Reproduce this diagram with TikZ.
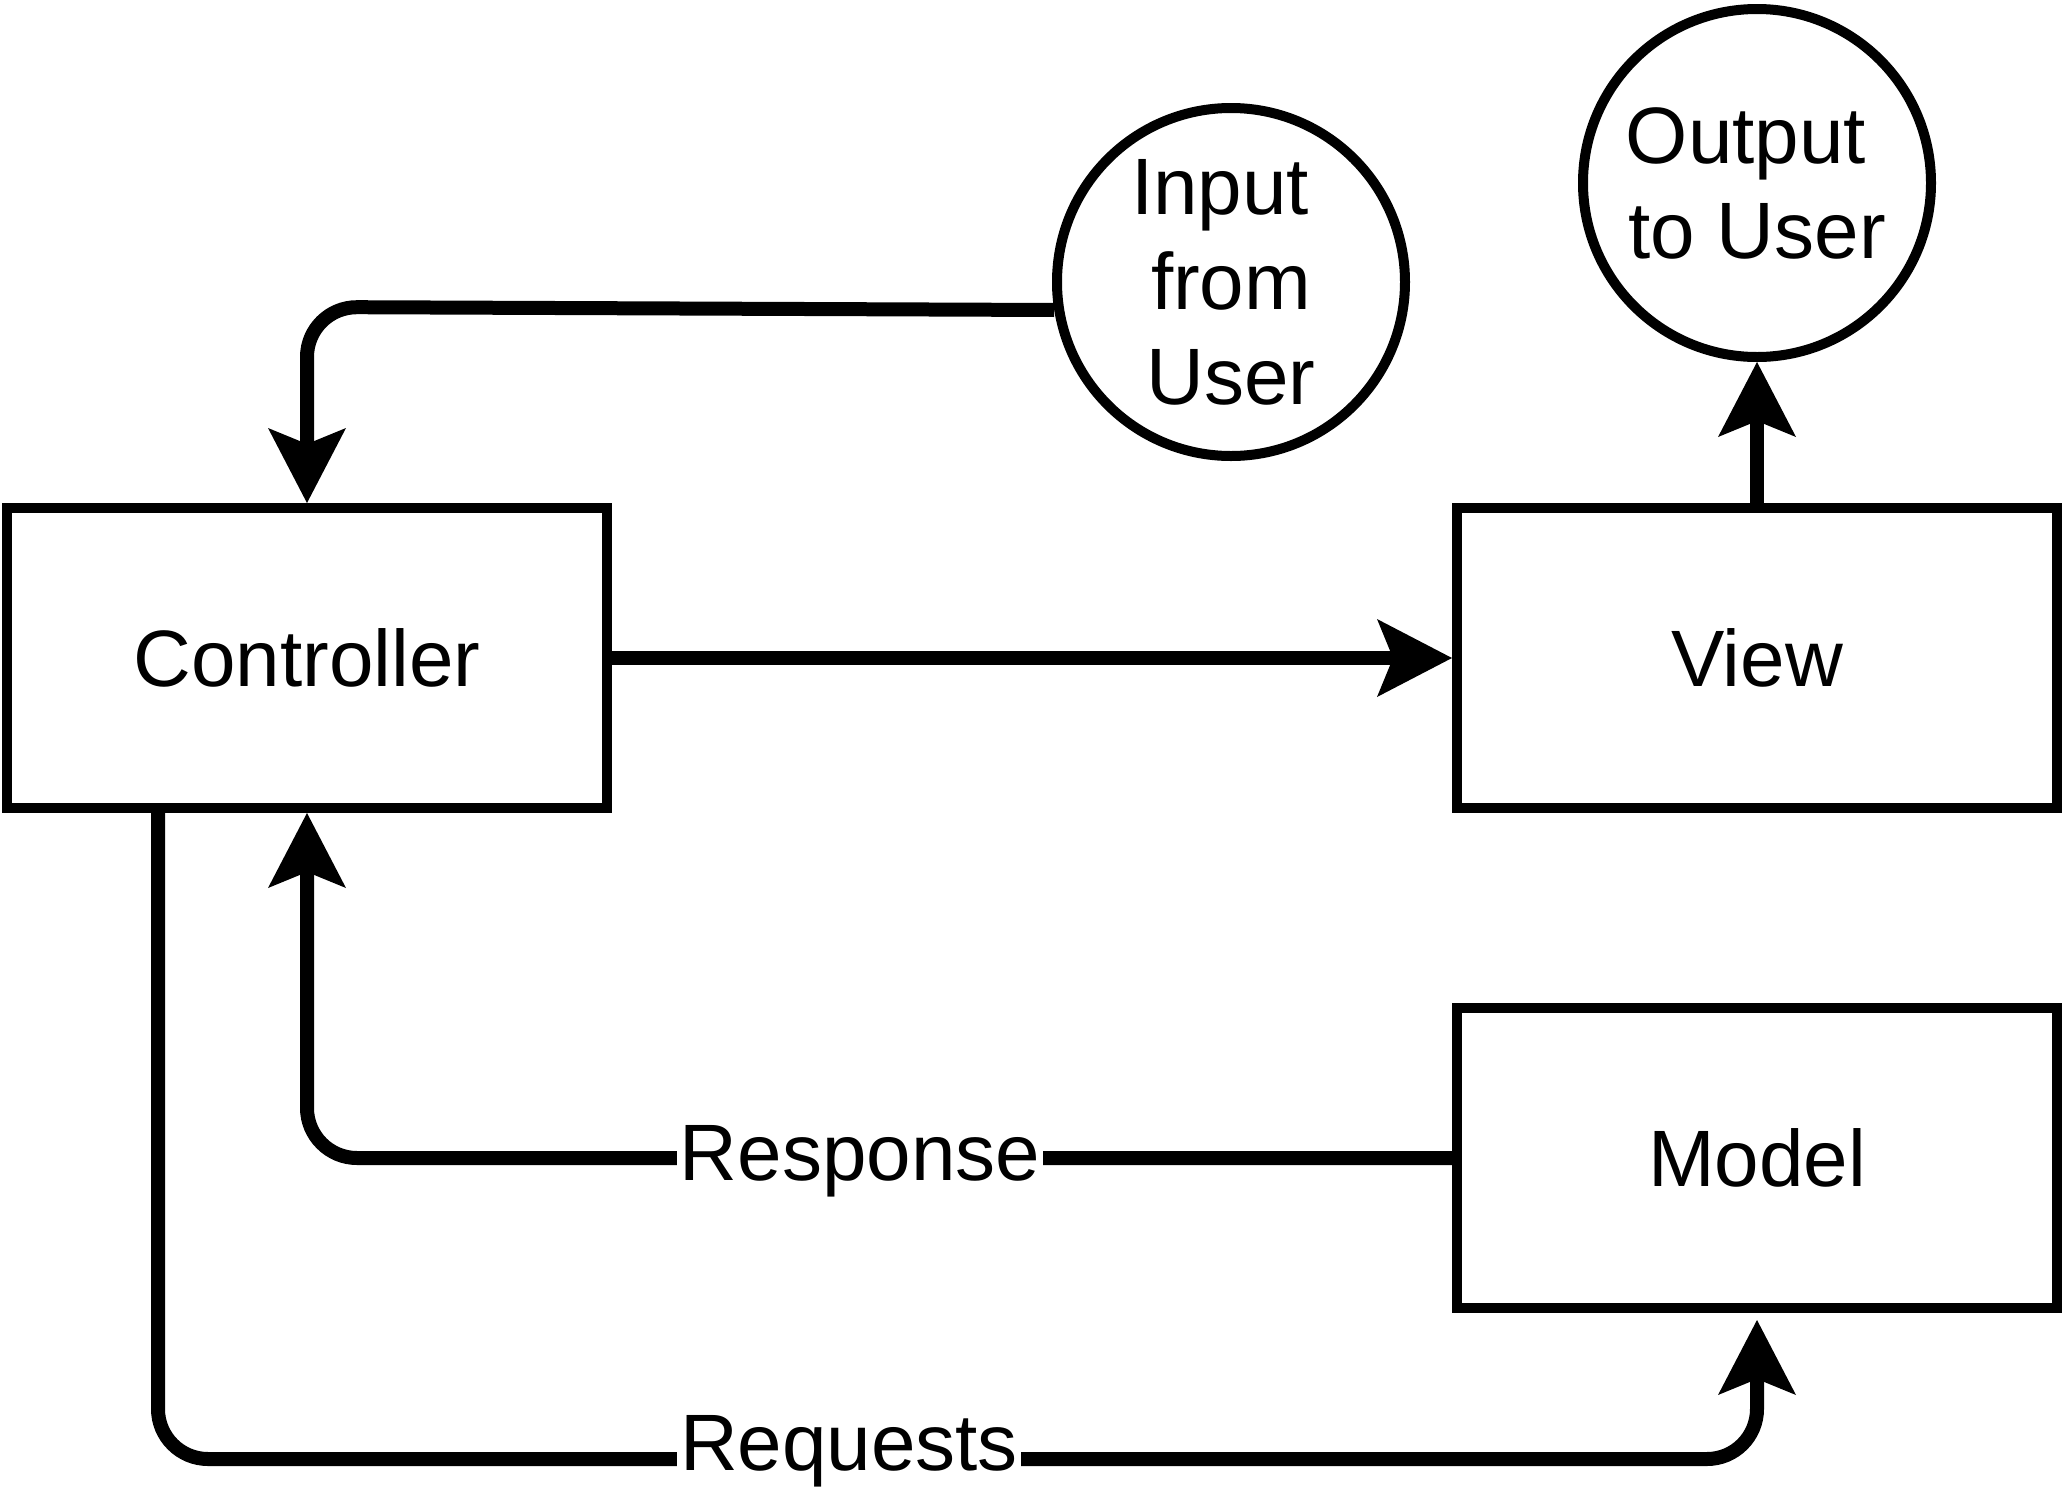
\documentclass[tikz,border=0pt]{standalone}
\usepackage{fontspec}
\setmainfont{Liberation Sans}
\usetikzlibrary{arrows.meta}
\begin{document}
\begin{tikzpicture}[x=1pt,y=-1pt,
  bigfont/.style={font=\fontsize{80}{95}\selectfont},
  box/.style={draw, line width=10pt, minimum width=600pt, minimum height=300pt,
    inner sep=0pt, text height=57pt, text depth=0pt, bigfont},
  usercirc/.style={draw, circle, line width=10pt, minimum size=348pt,
    inner sep=0pt, align=center, bigfont},
  conn/.style={line width=14pt, rounded corners=50pt,
    -{Stealth[length=75pt,width=78pt,inset=16pt,line width=0pt]}},
  elabel/.style={fill=white, inner xsep=3pt, inner ysep=2pt, anchor=base, bigfont}]
\path[use as bounding box, fill=white] (0,0) rectangle (2065,1505);

\node[box] (ctrl) at (307,658) {Controller};
\node[box] (view) at (1757,658) {View};
\node[box] (model) at (1757,1158) {Model};
\node[usercirc] (in) at (1231,282) {Input\kern22pt\\from\\User};
\node[usercirc] (out) at (1757,183) {Output\kern22pt\\to User};

% Input -> Controller
\coordinate (inturn) at (307,307);
\draw[conn] (in.189.4) -- (inturn) -- (ctrl.north);

% Controller -> View
\draw[conn] (ctrl.east) -- (view.west);

% View -> Output
\draw[conn] (view.north) -- (out.south);

% Model -> Controller (Response)
\coordinate (respturn) at (307,1158);
\draw[conn] (model.west) -- (respturn) -- (ctrl.south);
\node[elabel, yshift=-22pt] (resp) at (860,1158) {Response};

% Controller -> Model (Requests)
\coordinate (reqstart) at ([xshift=-149pt]ctrl.south);
\coordinate (reqturn1) at (158,1459);
\coordinate (reqturn2) at (1757,1459);
\draw[conn, shorten >=7pt] (reqstart) -- (reqturn1) -- (reqturn2) -- (model.south);
\node[elabel, yshift=-11pt] (req) at (849,1459) {Requests};
\end{tikzpicture}
\end{document}
